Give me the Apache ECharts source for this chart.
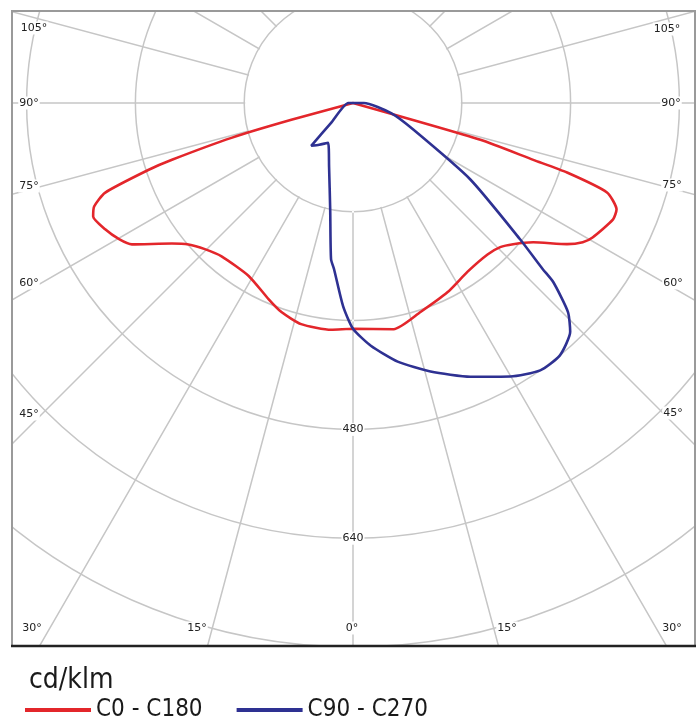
<!DOCTYPE html>
<html><head><meta charset="utf-8">
<script src="https://cdn.jsdelivr.net/npm/echarts@6/dist/echarts.min.js"></script>
<style>html,body{margin:0;padding:0;background:#fff;} #chart{width:698px;height:717px;}</style>
</head><body><div id="chart"></div>
<script>
// gamma angle (degrees from nadir) and luminous intensity (cd/klm)
const c0Angles   = [90, 73.9, 72.5, 72, 70.6, 68, 65.9, 60.7, 58.8, 56.6, 52.3, 48.6, 45.6, 41.6, 34.1, 26.6, 17.9, 10.2, 0];
const c0Values   = [0, 195, 278, 331, 396, 418, 419, 404, 395, 377, 335, 314, 303, 298, 300, 311, 323, 338, 332];
const c180Angles = [0, 5.5, 13.2, 18.9, 23.3, 31.1, 40.6, 45.4, 49.3, 52.2, 57.4, 59.8, 63, 66.4, 68.2, 70.1, 71.9, 72.6, 74, 74.7, 90];
const c180Values = [332, 335, 334, 325, 314, 297, 297, 306, 319, 337, 386, 398, 409, 417, 410, 388, 316, 279, 186, 94, 0];
const c90Angles  = [180, 90, 75, 66, 56.9, 50.8, 48.8, 48.2, 45.8, 43.5, 39.3, 35, 29.9, 23.2, 16.1, 9.8, 4.2, 0];
const c90Values  = [0, 16, 58, 98, 206, 317, 371, 395, 441, 464, 480, 480, 464, 438, 411, 386, 358, 332];
const c270Angles = [0, 2.8, 6.5, 8, 12.1, 20.6, 32, 39, 44.3, 47.7, 90, 180];
const c270Values = [332, 299, 246, 232, 160, 100, 69, 79, 88, 44, 7, 0];

const seriesNames  = ['C0 - C180', 'C90 - C270'];
const radiusTicks  = [0, 160, 320, 480, 640, 800, 960];
const radiusLabels = [480, 640];
const angleLabelTexts = ['105°','90°','75°','60°','45°','30°','15°','0°','15°','30°','45°','60°','75°','90°','105°'];
const unitLabel = 'cd/klm';

// layout (not data)
const CENTER = [353, 103];
const PX_PER_UNIT = 0.68;
const FRAME = {x: 12, y: 11, w: 683, h: 635};
const angleLabelPos = [[34,28],[29,103],[29,186],[29,283],[29,414],[32,628],[197,628],[352,628],[507,628],[672,628],[673,413],[673,283],[672,185],[671,103],[667,29]];

function side(angles, values, mirror) {
  return angles.map((a, i) => [values[i], mirror ? 360 - a : a]);
}
const redData  = side(c0Angles, c0Values, false).concat(side(c180Angles, c180Values, true));
const blueData = side(c90Angles, c90Values, false).concat(side(c270Angles, c270Values, true));

const rMin = radiusTicks[0], rMax = radiusTicks[radiusTicks.length - 1];
const innerR = radiusTicks[1];
const gridColor = '#c6c6c6';
const labelFont = 'DejaVu Sans, sans-serif';

const graphics = [];
// hide radial grid lines inside the innermost circle
graphics.push({type:'circle', z: 1, shape:{cx: CENTER[0], cy: CENTER[1], r: innerR * PX_PER_UNIT - 1}, style:{fill:'#fff'}});
angleLabelTexts.forEach((t, i) => {
  graphics.push({type:'text', z: 10, x: angleLabelPos[i][0], y: angleLabelPos[i][1],
    style:{text: t, font: '11px ' + labelFont, fill:'#222', align:'center', verticalAlign:'middle',
      backgroundColor:'#fff', padding:[1,1]}});
});
// masks outside the frame
const W = 698, H = 717;
[[0,0,W,FRAME.y],[0,0,FRAME.x,H],[FRAME.x+FRAME.w,0,W-FRAME.x-FRAME.w,H],[0,FRAME.y+FRAME.h,W,H-FRAME.y-FRAME.h]].forEach(r => {
  graphics.push({type:'rect', z: 50, shape:{x:r[0], y:r[1], width:r[2], height:r[3]}, style:{fill:'#fff'}});
});
graphics.push({type:'rect', z: 60, shape:{x:FRAME.x, y:FRAME.y, width:FRAME.w, height:FRAME.h}, style:{fill:'none', stroke:'#9a9a9a', lineWidth:2}});
graphics.push({type:'line', z: 61, shape:{x1:FRAME.x-1, y1:FRAME.y+FRAME.h, x2:FRAME.x+FRAME.w+1, y2:FRAME.y+FRAME.h}, style:{stroke:'#222', lineWidth:2.5}});

const chart = echarts.init(document.getElementById('chart'), null, {renderer:'canvas'});
chart.setOption({
  animation: false,
  backgroundColor: '#fff',
  title: {text: unitLabel, left: 24, top: 662, z: 100,
    textStyle:{fontSize: 28, fontWeight:'normal', color:'#1a1a1a', fontFamily:'DejaVu Sans Condensed, DejaVu Sans, sans-serif'}},
  legend: {data: seriesNames, left: 20, top: 693, z: 100, icon: 'rect', itemWidth: 66, itemHeight: 4, itemGap: 34,
    textStyle:{fontSize: 24, color:'#1a1a1a', fontFamily:'Liberation Sans Narrow, DejaVu Sans Condensed, sans-serif'}},
  polar: {center: CENTER, radius: [0, rMax * PX_PER_UNIT]},
  angleAxis: {type:'value', min: 0, max: 360, interval: 15, startAngle: 270, clockwise: false, z: 0,
    axisLine:{show:false}, axisTick:{show:false}, axisLabel:{show:false},
    splitLine:{show:true, lineStyle:{color: gridColor, width: 1.5}}},
  radiusAxis: {type:'value', min: rMin, max: rMax, interval: 160, z: 5,
    axisLine:{show:false}, axisTick:{show:false},
    splitLine:{show:true, lineStyle:{color: gridColor, width: 1.5}},
    axisLabel:{formatter: v => radiusLabels.includes(v) ? String(v) : '', margin: 0, align:'center', verticalAlign:'middle',
      fontSize: 11, fontFamily: labelFont, color:'#222', backgroundColor:'#fff', padding:[1,1]}},
  series: [
    {name: seriesNames[0], type:'line', coordinateSystem:'polar', data: redData, showSymbol:false, symbol:'none', clip:false,
      smooth: 0.2, z: 7, lineStyle:{color:'#e3262b', width: 2.6}, itemStyle:{color:'#e3262b'}},
    {name: seriesNames[1], type:'line', coordinateSystem:'polar', data: blueData, showSymbol:false, symbol:'none', clip:false,
      smooth: 0.2, z: 8, lineStyle:{color:'#2e3192', width: 2.6}, itemStyle:{color:'#2e3192'}}
  ],
  graphic: graphics
});
</script></body></html>
